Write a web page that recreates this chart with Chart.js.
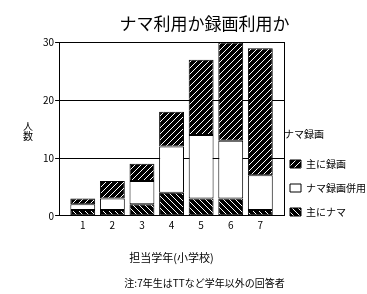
<!DOCTYPE html>
<html lang="ja">
<head>
<meta charset="utf-8">
<script src="https://cdn.jsdelivr.net/npm/chart.js@4/dist/chart.umd.min.js"></script>
<style>
  html, body { margin: 0; padding: 0; background: #fff; }
  #wrap { width: 367px; height: 294px; position: relative; }
</style>
</head>
<body>
<div id="wrap"><canvas id="c"></canvas></div>
<script>
// data
const grades = [1, 2, 3, 4, 5, 6, 7];
const liveMain = [1, 1, 2, 4, 3, 3, 1];      // 主にナマ
const both     = [1, 2, 4, 8, 11, 10, 6];    // ナマ録画併用
const recMain  = [1, 3, 3, 6, 13, 17, 22];   // 主に録画
const seriesNames = ['主にナマ', 'ナマ録画併用', '主に録画'];
const yTicks = [0, 10, 20, 30];

const FONT = '"Noto Sans CJK JP", "Noto Sans", sans-serif';
Chart.defaults.font.family = FONT;
Chart.defaults.color = '#000';

// hatch patterns, 6px tiles, crisp 1px white diagonals on black
function hatch(dir) {
  const s = 6, cv = document.createElement('canvas');
  cv.width = s; cv.height = s;
  const g = cv.getContext('2d');
  g.fillStyle = '#000'; g.fillRect(0, 0, s, s);
  g.fillStyle = '#fff';
  for (let i = 0; i < s; i++) g.fillRect(i, dir === '/' ? s - 1 - i : i, 1, 1);
  return g.createPattern(cv, 'repeat');
}

/** upright stacked y title (人 / 数) */
const yTitle = {
  id: 'yTitle',
  afterDraw(chart) {
    const { ctx, chartArea } = chart;
    ctx.save();
    ctx.font = '10px ' + FONT; ctx.fillStyle = '#000';
    ctx.textAlign = 'center'; ctx.textBaseline = 'middle';
    ['人', '数'].forEach((ch, i) => ctx.fillText(ch, chartArea.left - 31, chartArea.top + 84 + i * 10));
    ctx.restore();
  }
};

const ds = (label, data, bg) => ({
  label, data, backgroundColor: bg, borderColor: '#000', borderWidth: 1,
  borderSkipped: false, categoryPercentage: 1, barPercentage: 0.84
});

new Chart(document.getElementById('c'), {
  type: 'bar',
  data: {
    labels: grades,
    datasets: [
      ds(seriesNames[0], liveMain, hatch('\\')),
      ds(seriesNames[1], both, '#fff'),
      ds(seriesNames[2], recMain, hatch('/')),
    ]
  },
  options: {
    responsive: true, maintainAspectRatio: false, animation: false,
    layout: { padding: { left: 42, right: 0, top: 0, bottom: 0 } },
    plugins: {
      title: { display: true, text: 'ナマ利用か録画利用か', font: { size: 17, weight: 'normal' },
        padding: { top: 13, bottom: 9 } },
      subtitle: { display: true, position: 'bottom', text: '注:7年生はTTなど学年以外の回答者',
        font: { size: 10, weight: 'normal' }, padding: { top: 0, bottom: 5 } },
      tooltip: { enabled: false },
      legend: {
        position: 'right', align: 'start', reverse: true, maxWidth: 83,
        title: { display: true, text: 'ナマ録画', position: 'start', font: { size: 10 },
          padding: { top: 129, bottom: 12 } },
        labels: {
          boxWidth: 11, boxHeight: 8, padding: 6, color: '#000',
          font: { size: 10, lineHeight: 1.8 },
          generateLabels: (chart) => Chart.defaults.plugins.legend.labels.generateLabels(chart)
            .map(l => ({ ...l, text: [l.text] }))
        }
      }
    },
    scales: {
      x: {
        type: 'linear', stacked: true, offset: false, min: 0.2, max: 7.8,
        afterBuildTicks: (s) => { s.ticks = grades.map(v => ({ value: v })); },
        grid: { display: false, drawTicks: false, offset: false },
        border: { display: true, color: '#000' },
        ticks: { font: { size: 10 }, padding: 3.5, maxRotation: 0 },
        title: { display: true, text: '担当学年(小学校)', font: { size: 11 }, padding: { top: 16, bottom: 13 } }
      },
      y: {
        stacked: true, min: 0, max: 30,
        afterBuildTicks: (s) => { s.ticks = yTicks.map(v => ({ value: v })); },
        grid: { color: '#000', lineWidth: 1, tickLength: 4, drawTicks: true },
        border: { color: '#000' },
        ticks: { font: { size: 10 }, padding: 1 }
      },
      y2: {
        type: 'linear', position: 'right', min: 0, max: 30, display: true,
        grid: { display: false, drawTicks: false },
        ticks: { display: false },
        border: { display: true, color: '#000' }
      }
    }
  },
  plugins: [yTitle]
});
</script>
</body>
</html>
